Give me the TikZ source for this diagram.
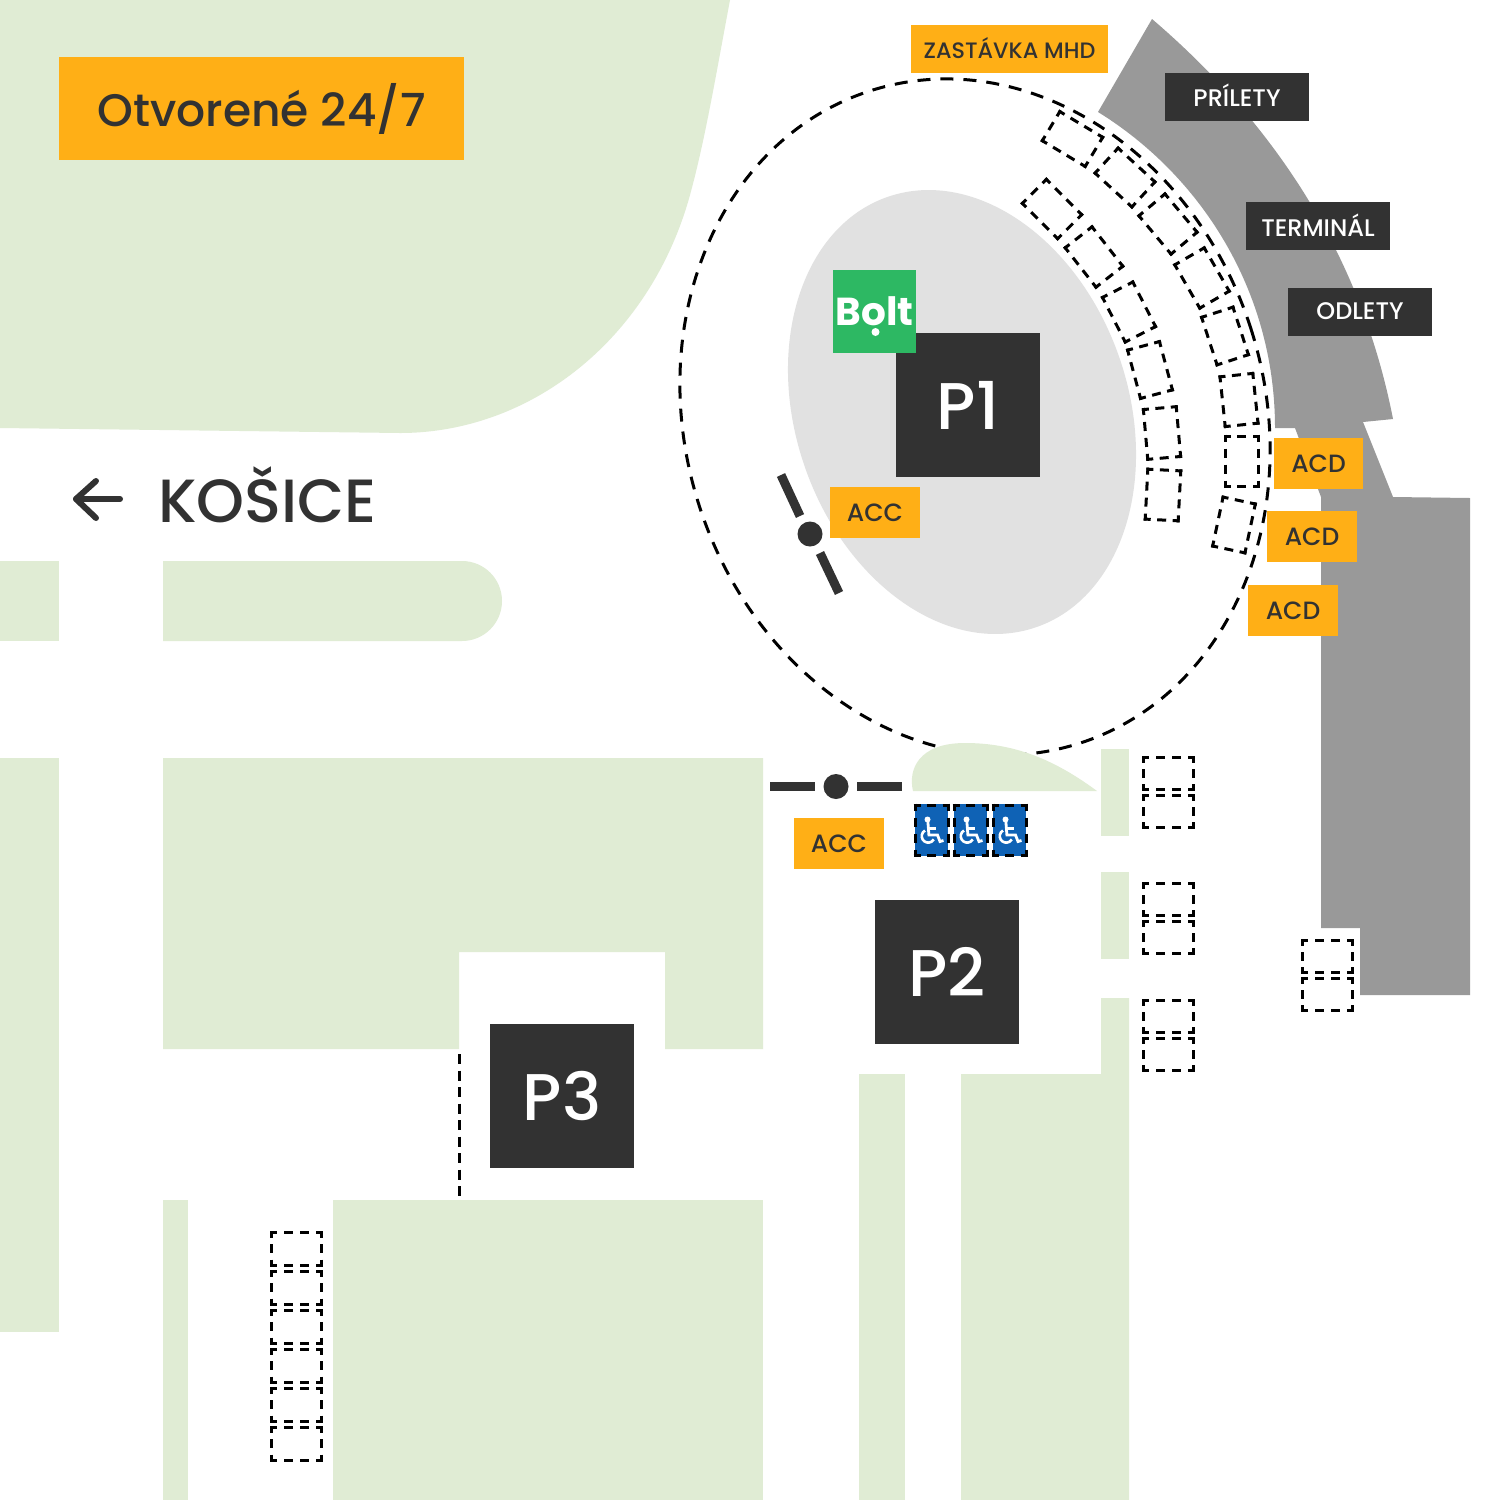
\documentclass[tikz,border=0pt]{standalone}
\usepackage{fontspec}
\setmainfont{Poppins Medium}
\newfontfamily\boldf{Poppins Bold}
\definecolor{lawn}{HTML}{E0ECD4}
\definecolor{term}{HTML}{999999}
\definecolor{dark}{HTML}{323232}
\definecolor{amber}{HTML}{FFAF16}
\definecolor{wheel}{HTML}{0F62B5}
\definecolor{boltg}{HTML}{2DB863}
\definecolor{apron}{HTML}{E1E1E1}
\tikzset{
 lawnfill/.style={fill=lawn,draw=none},
 amberbox/.style={fill=amber,text=dark,inner sep=0pt,font=\fontsize{25}{25}\selectfont},
 darkbox/.style={fill=dark,text=white,inner sep=0pt,font=\fontsize{24}{24}\selectfont},
 parkbox/.style={fill=dark,text=white,inner sep=0pt,minimum width=144pt,minimum height=144pt,font=\fontsize{66}{66}\selectfont},
 pkline/.style={draw=black,line width=3pt},
 ring/.style={draw=black,line width=3pt,dash pattern=on 13pt off 10pt},
 barrier/.style={draw=dark,line width=9pt},
 hub/.style={fill=dark,draw=none},
}
\newcommand\pkedge[4]{%
 \pgfmathsetmacro\pkg{(#3+3-14-(#4-1)*9)/#4}%
 \draw[pkline,dash pattern=on 9pt off \pkg pt,dash phase=2pt] #1 -- #2;}
\newcommand\pk[5]{%
 \begin{scope}[shift={(#1,#2)},rotate=-#3]
 \pgfmathsetmacro\hw{#4/2}\pgfmathsetmacro\hh{#5/2}
 \pgfmathsetmacro\hwx{#4/2+1.5}\pgfmathsetmacro\hhx{#5/2+1.5}
 \pgfmathtruncatemacro\nw{round((#4+3-14+9)/16)}
 \pgfmathtruncatemacro\nh{round((#5+3-14+9)/16)}
 \pkedge{(-\hwx,-\hh)}{(\hwx,-\hh)}{#4}{\nw}
 \pkedge{(-\hwx,\hh)}{(\hwx,\hh)}{#4}{\nw}
 \pkedge{(-\hw,-\hhx)}{(-\hw,\hhx)}{#5}{\nh}
 \pkedge{(\hw,-\hhx)}{(\hw,\hhx)}{#5}{\nh}
 \end{scope}}
\newcommand\wc[1]{%
 \fill[wheel] (#1-16.5,804) rectangle (#1+16.5,856);
 \begin{scope}[shift={(#1,830)}]
 \fill[white] (-4,-10.5) circle (3);
 \draw[white,line width=2.8pt] (-3.6,-8) -- (-2.6,5) -- (6,5) -- (8.5,11.5) -- (12,10.5);
 \draw[white,line width=2.4pt] (-3,-1.5) -- (4,-1.5);
 \draw[white,line width=2.6pt] (-6.5,0.5) arc[start angle=-120,end angle=-330,radius=6.5];
 \end{scope}
 \pk{#1}{830}{0}{33}{50}}
\begin{document}
\begin{tikzpicture}[x=1pt,y=-1pt]
\useasboundingbox (0,0) rectangle (1500,1500);
\fill[white] (0,0) rectangle (1500,1500);
% lawns
\fill[lawnfill] (0,0) -- (730,0) .. controls (715,80) and (705,140) .. (690,195) .. controls (650,340) and (530,433) .. (400,433) -- (0,428) -- cycle;
\fill[lawnfill] (0,561) rectangle (59,641);
\fill[lawnfill] (163,561) -- (462,561) arc[start angle=-90,end angle=90,radius=40] -- (163,641) -- cycle;
\fill[lawnfill] (0,758) rectangle (59,1332);
\fill[lawnfill] (163,758) -- (763,758) -- (763,1049) -- (665,1049) -- (665,952) -- (459,952) -- (459,1049) -- (163,1049) -- cycle;
\fill[lawnfill] (333,1200) rectangle (763,1500);
\fill[lawnfill] (163,1200) rectangle (188,1500);
\fill[lawnfill] (859,1074) rectangle (905,1500);
\fill[lawnfill] (961,1074) -- (1101,1074) -- (1101,998) -- (1129,998) -- (1129,1500) -- (961,1500) -- cycle;
\fill[lawnfill] (1101,749) rectangle (1129,836);
\fill[lawnfill] (1101,872) rectangle (1129,959);
% terminal
\fill[term] (1152,19) .. controls (1270,120) and (1360,250) .. (1393,419) -- (1363,422) -- (1393,497) -- (1470,498) -- (1470,995) -- (1360,995) -- (1360,928) -- (1321,928) -- (1321,497) -- (1295,428) -- (1275,428) .. controls (1275,290) and (1200,175) .. (1098,112) -- cycle;
% apron and ring
\fill[apron,rotate around={19:(962,412)}] (962,412) ellipse [x radius=166.5,y radius=227.6];
\draw[ring,rotate around={17.8:(975,417)}] (975,417) ellipse [x radius=289.7,y radius=342.6];
\fill[lawnfill] (913,791) .. controls (908,770) and (918,743) .. (965,743) .. controls (1015,743) and (1055,760) .. (1097,791) -- cycle;
% dashed line by P3
\draw[black,line width=3pt,dash pattern=on 10pt off 6.5pt] (459.5,1054) -- (459.5,1197);
% parking spots
\foreach \k in {0,...,5}{\pgfmathsetmacro\yy{1248.75+39*\k}\pk{296.5}{\yy}{0}{50}{32.5}}
\foreach \yy in {773.5,811.5,899.5,937.5,1016.5,1054.5}{\pk{1168.5}{\yy}{0}{50}{32}}
\pk{1327.5}{956.5}{0}{50}{32}
\pk{1327.5}{994.5}{0}{50}{32}
\pk{1072.5}{139}{31}{50}{34}
\pk{1125}{177.5}{42.6}{50}{34}
\pk{1168}{224}{50}{50}{34}
\pk{1202}{278}{60}{50}{34}
\pk{1225}{336}{72}{50}{33}
\pk{1239}{400}{84}{50}{33}
\pk{1241.5}{461}{90}{50}{33}
\pk{1234}{525}{102}{50}{33}
\pk{1052}{209}{45}{50}{34}
\pk{1094}{257}{52}{50}{34}
\pk{1129}{312}{63}{50}{34}
\pk{1150}{370}{75}{50}{33}
\pk{1162}{433}{85}{50}{33}
\pk{1163}{495}{93}{50}{33}
\wc{931.5}\wc{970.5}\wc{1009.5}
% barriers
\draw[barrier] (770,786.5) -- (815,786.5);
\draw[barrier] (857,786.5) -- (902,786.5);
\fill[hub] (836,786.5) circle (12.5);
\draw[barrier] (781,475) -- (800,516);
\draw[barrier] (820,553) -- (839,593);
\fill[hub] (810,534) circle (12.5);
% boxes
\node[amberbox,minimum width=405pt,minimum height=103pt,font=\fontsize{45.6}{46}\selectfont] (open) at (261.5,108.5) {\raisebox{1pt}{Otvorené 24/7}};
\node[amberbox,minimum width=197.5pt,minimum height=48pt,font=\fontsize{22.3}{22.3}\selectfont] (mhd) at (1009.5,49) {\raisebox{1.5pt}{ZASTÁVKA MHD}};
\node[darkbox,minimum width=144pt,minimum height=48pt] (arr) at (1237,97) {\raisebox{3pt}{PRÍLETY}};
\node[darkbox,minimum width=144pt,minimum height=48pt] (tml) at (1318,226) {\raisebox{2pt}{TERMINÁL}};
\node[darkbox,minimum width=144pt,minimum height=48pt] (dep) at (1360,312) {\raisebox{2pt}{ODLETY}};
\node[parkbox] (pone) at (968,405) {P1};
\node[parkbox] (ptwo) at (947,972) {P2};
\node[parkbox] (pthree) at (562,1096) {P3};
\node[amberbox,minimum width=89.5pt,minimum height=51pt] (acca) at (875,512.5) {\raisebox{-2pt}{ACC}};
\node[amberbox,minimum width=89.5pt,minimum height=51pt] (accb) at (839,843.5) {\raisebox{-2pt}{ACC}};
\node[amberbox,minimum width=89.5pt,minimum height=51pt] (acda) at (1318.5,463.5) {\raisebox{-2pt}{ACD}};
\node[amberbox,minimum width=89.5pt,minimum height=51pt] (acdb) at (1312,536.5) {\raisebox{-2pt}{ACD}};
\node[amberbox,minimum width=89.5pt,minimum height=51pt] (acdc) at (1293,610.5) {\raisebox{-2pt}{ACD}};
\node[fill=boltg,minimum width=83pt,minimum height=83pt,inner sep=0pt,text=white,font=\boldf\fontsize{39}{39}\selectfont] (bolt) at (874.5,311.5) {\raisebox{1pt}{Bolt}};
\fill[white] (875.5,332) circle (4);
% Kosice
\node[text=dark,inner sep=0pt,anchor=west,font=\fontsize{61}{61}\selectfont] (city) at (158,495) {KOŠICE};
\draw[dark,line width=6pt,line cap=round,line join=round] (120,499) -- (76,499);
\draw[dark,line width=6pt,line cap=round,line join=round] (96,481) -- (76,499) -- (96,518);
\end{tikzpicture}
\end{document}
